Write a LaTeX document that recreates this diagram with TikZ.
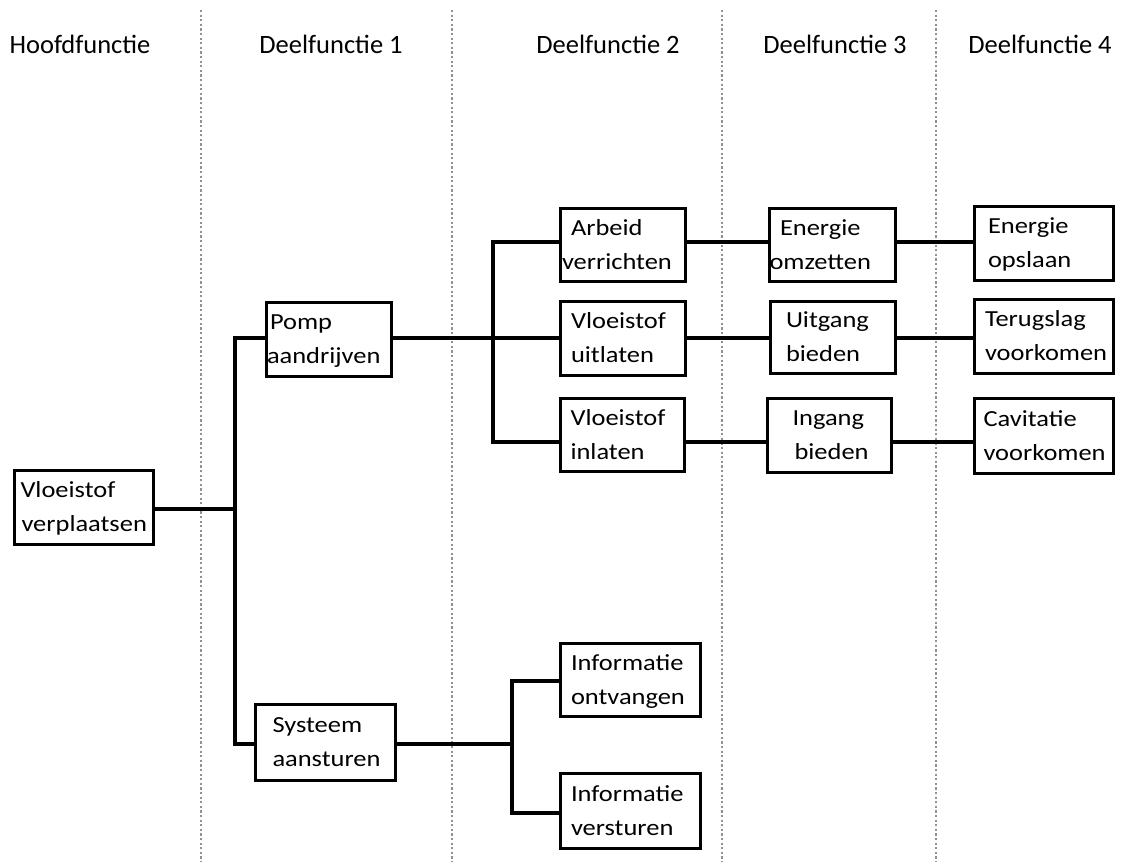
\documentclass[tikz,border=0pt]{standalone}
\usepackage{fontspec}
\setmainfont{Carlito}
\newfontfamily\bxfam{Carlito}[FakeStretch=1.15]
\newcommand\bxfont{\bxfam\fontsize{23}{34}\selectfont}
\newcommand\hdfont{\fontsize{26.5}{30}\selectfont}
\newcommand\twol[4]{\hspace*{#1pt}\rule{0pt}{20pt}#2\\\hspace*{#3pt}#4\rule[-6pt]{0pt}{6pt}}
\tikzset{
  fbox/.style={draw, line width=3pt, inner xsep=0pt, inner ysep=0pt,
    align=left, font=\bxfont},
  conn/.style={line width=4.2pt},
  sep/.style={line width=2.6pt, draw={rgb,255:red,145;green,145;blue,145}, dash pattern=on 2.2pt off 2.4pt},
  hd/.style={font=\hdfont, anchor=base}
}
\begin{document}
\begin{tikzpicture}[x=1pt,y=-1pt]
\useasboundingbox (0,0) rectangle (1121,862);
% separators
\foreach \xx/\nm in {201/s1,452/s2,722/s3,936/s4}{
  \coordinate (\nm a) at (\xx,10);
  \coordinate (\nm b) at (\xx,862);
  \draw[sep] (\nm a) -- (\nm b);
}
% headers
\node[hd] (h0) at (80,53) {Hoofdfunctie};
\node[hd] (h1) at (331,53) {Deelfunctie 1};
\node[hd] (h2) at (608,53) {Deelfunctie 2};
\node[hd] (h3) at (835,53) {Deelfunctie 3};
\node[hd] (h4) at (1040,53) {Deelfunctie 4};
% boxes
\node[fbox, text width=139pt, minimum height=74pt] (vv) at (84,507.5) {\twol{6}{Vloeistof}{7}{verplaatsen}};
\node[fbox, text width=125pt, minimum height=74pt] (pomp) at (329,339.5) {\twol{3.5}{Pomp}{0.5}{aandrijven}};
\node[fbox, text width=140pt, minimum height=76pt] (sys) at (325.5,742.5) {\twol{17}{Systeem}{17}{aansturen}};
\node[fbox, text width=125pt, minimum height=73pt] (arb) at (623,245) {\twol{10.5}{Arbeid}{1.5}{verrichten}};
\node[fbox, text width=125pt, minimum height=74pt] (uit) at (623,338.5) {\twol{10.5}{Vloeistof}{10.5}{uitlaten}};
\node[fbox, text width=124pt, minimum height=73pt] (inl) at (622,435) {\twol{10.5}{Vloeistof}{10.5}{inlaten}};
\node[fbox, text width=126pt, minimum height=73pt] (omz) at (832.5,245) {\twol{10.5}{Energie}{0}{omzetten}};
\node[fbox, text width=125pt, minimum height=72pt] (uitg) at (833,337.5) {\twol{15.5}{Uitgang}{15.5}{bieden}};
\node[fbox, text width=124pt, minimum height=74pt] (ing) at (829.5,435.5) {\twol{25}{Ingang}{27}{bieden}};
\node[fbox, text width=139pt, minimum height=74pt] (ops) at (1044,243.5) {\twol{13.5}{Energie}{13.5}{opslaan}};
\node[fbox, text width=139pt, minimum height=74pt] (ter) at (1044,336.5) {\twol{10.5}{Terugslag}{10.5}{voorkomen}};
\node[fbox, text width=139pt, minimum height=75pt] (cav) at (1044,436) {\twol{9}{Cavitatie}{9}{voorkomen}};
\node[fbox, text width=140pt, minimum height=73pt] (ion) at (630.5,680) {\twol{10.5}{Informatie}{10.5}{ontvangen}};
\node[fbox, text width=140pt, minimum height=75pt] (ive) at (630.5,811) {\twol{10.5}{Informatie}{10.5}{versturen}};
% rows and trunks
\coordinate (r1) at (0,242);
\coordinate (r2) at (0,338);
\coordinate (r3) at (0,442);
\coordinate (rs) at (0,744);
\coordinate (ri1) at (0,681);
\coordinate (ri2) at (0,813);
\coordinate (t1) at (235,509);
\coordinate (t2) at (493,338);
\coordinate (t3) at (512,744);
\draw[conn] (vv.east |- t1) -- (t1);
\draw[conn] (pomp.west |- r2) -| (t1) |- (sys.west |- rs);
\draw[conn] (pomp.east |- r2) -- (uit.west |- r2);
\draw[conn] (arb.west |- r1) -| (t2) |- (inl.west |- r3);
\draw[conn] (sys.east |- rs) -- (t3);
\draw[conn] (ion.west |- ri1) -| (t3) |- (ive.west |- ri2);
\draw[conn] (arb.east |- r1) -- (omz.west |- r1);
\draw[conn] (uit.east |- r2) -- (uitg.west |- r2);
\draw[conn] (inl.east |- r3) -- (ing.west |- r3);
\draw[conn] (omz.east |- r1) -- (ops.west |- r1);
\draw[conn] (uitg.east |- r2) -- (ter.west |- r2);
\draw[conn] (ing.east |- r3) -- (cav.west |- r3);
\end{tikzpicture}
\end{document}
